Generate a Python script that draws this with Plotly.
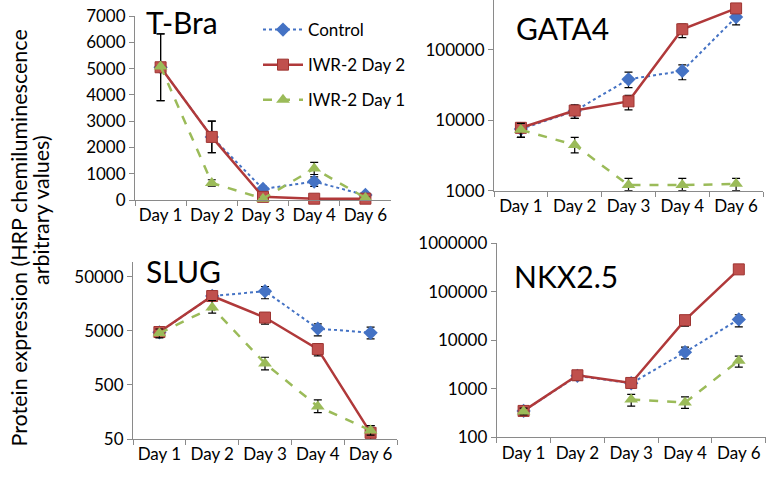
import plotly.graph_objects as go
import math

days = ["Day 1", "Day 2", "Day 3", "Day 4", "Day 6"]

# ---- T-Bra (linear) ----
tbra_ctrl = [5050, 2400, 420, 700, 190]
tbra_ctrl_err = [1270, 600, 100, 180, 70]
tbra_d2 = [5050, 2400, 120, 50, 50]
tbra_d2_err = [1270, 600, 50, 30, 30]
tbra_d1 = [5080, 650, 50, 1200, 80]
tbra_d1_err = [0, 120, 30, 230, 40]
tbra_ticks = [0, 1000, 2000, 3000, 4000, 5000, 6000, 7000]

# ---- GATA4 (log) ----
gata_ctrl = [7500, 13500, 38000, 50000, 290000]
gata_ctrl_hi = [9000, 16000, 48000, 61000, 330000]
gata_ctrl_lo = [5700, 10600, 29000, 37500, 225000]
gata_d2 = [7800, 13700, 18500, 195000, 385000]
gata_d2_hi = [9000, 16500, 22500, 230000, 420000]
gata_d2_lo = [5700, 10600, 14000, 148000, 350000]
gata_d1 = [7300, 4450, 1200, 1200, 1250]
gata_d1_hi = [9000, 5700, 1500, 1500, 1500]
gata_d1_lo = [5700, 3450, 1000, 1000, 1000]
gata_ticks = [1000, 10000, 100000]
gata_ticktext = ["1000", "10000", "100000"]

# ---- SLUG (log) ----
slug_ctrl = [4700, 22000, 27000, 5500, 4600]
slug_ctrl_hi = [5600, 25000, 33000, 6750, 5850]
slug_ctrl_lo = [3900, 19000, 19600, 4040, 3560]
slug_d2 = [4750, 22000, 8800, 2300, 65]
slug_d2_hi = [5600, 25000, 10600, 2870, 88]
slug_d2_lo = [3900, 19000, 6630, 1720, 48]
slug_d1 = [4500, 13500, 1250, 200, 72]
slug_d1_hi = [5400, 18200, 1625, 264, 88]
slug_d1_lo = [3700, 10600, 950, 154, 59]
slug_ticks = [50, 500, 5000, 50000]
slug_ticktext = ["50", "500", "5000", "50000"]

# ---- NKX2.5 (log) ----
nkx_ctrl = [350, 1850, 1300, 5700, 27000]
nkx_ctrl_hi = [400, 2200, 1550, 7200, 33600]
nkx_ctrl_lo = [290, 1500, 1050, 4150, 19000]
nkx_d2 = [350, 1900, 1320, 26000, 290000]
nkx_d2_hi = [400, 2250, 1600, 32000, 330000]
nkx_d2_lo = [290, 1500, 1050, 19500, 250000]
nkx_d1 = [340, None, 600, 520, 3800]
nkx_d1_hi = [400, None, 770, 680, 4700]
nkx_d1_lo = [290, None, 438, 393, 2800]
nkx_ticks = [100, 1000, 10000, 100000, 1000000]
nkx_ticktext = ["100", "1000", "10000", "100000", "1000000"]

FONT = "Lato"
BLUE = "#4472C4"
RED_LINE = "#B0393A"
RED_FILL = "#C0504D"
GREEN = "#9BBB59"
AXIS = "#8A8A8A"

W, H = 767, 477

def pm(vals, hi, lo):
    plus = [None if v is None else h - v for v, h in zip(vals, hi)]
    minus = [None if v is None else v - l for v, l in zip(vals, lo)]
    return plus, minus

fig = go.Figure()

series_style = {
    "ctrl": dict(name="Control", line=dict(color=BLUE, width=2, dash="dot"),
                 marker=dict(symbol="diamond", size=11, color=BLUE)),
    "d2": dict(name="IWR-2 Day 2", line=dict(color=RED_LINE, width=2.5),
               marker=dict(symbol="square", size=11, color=RED_FILL,
                           line=dict(color="#9E3431", width=1))),
    "d1": dict(name="IWR-2 Day 1", line=dict(color=GREEN, width=2.5, dash="dash"),
               marker=dict(symbol="triangle-up", size=12, color=GREEN)),
}

panels = [
    ("x", "y", [("ctrl", tbra_ctrl, tbra_ctrl_err, tbra_ctrl_err),
                ("d2", tbra_d2, tbra_d2_err, tbra_d2_err),
                ("d1", tbra_d1, tbra_d1_err, tbra_d1_err)]),
    ("x2", "y2", [("ctrl",) + (gata_ctrl,) + pm(gata_ctrl, gata_ctrl_hi, gata_ctrl_lo),
                  ("d2",) + (gata_d2,) + pm(gata_d2, gata_d2_hi, gata_d2_lo),
                  ("d1",) + (gata_d1,) + pm(gata_d1, gata_d1_hi, gata_d1_lo)]),
    ("x3", "y3", [("ctrl",) + (slug_ctrl,) + pm(slug_ctrl, slug_ctrl_hi, slug_ctrl_lo),
                  ("d2",) + (slug_d2,) + pm(slug_d2, slug_d2_hi, slug_d2_lo),
                  ("d1",) + (slug_d1,) + pm(slug_d1, slug_d1_hi, slug_d1_lo)]),
    ("x4", "y4", [("ctrl",) + (nkx_ctrl,) + pm(nkx_ctrl, nkx_ctrl_hi, nkx_ctrl_lo),
                  ("d2",) + (nkx_d2,) + pm(nkx_d2, nkx_d2_hi, nkx_d2_lo),
                  ("d1",) + (nkx_d1,) + pm(nkx_d1, nkx_d1_hi, nkx_d1_lo)]),
]

for pi, (xa, ya, series) in enumerate(panels):
    for key, vals, plus, minus in series:
        st = series_style[key]
        fig.add_trace(go.Scatter(
            x=days, y=vals, xaxis=xa, yaxis=ya, mode="lines+markers",
            name=st["name"], line=st["line"], marker=st["marker"],
            legendgroup=key, showlegend=(pi == 0),
            connectgaps=False, cliponaxis=False,
            error_y=dict(type="data", array=plus, arrayminus=minus,
                         color="black", thickness=1.2, width=4, symmetric=False),
        ))

def px_dom_x(a, b):
    return [max(0, a / W), min(1, b / W)]

def px_dom_y(top, bottom):
    return [max(0, 1 - bottom / H), min(1, 1 - top / H)]

def px_x(a):
    return a / W

def px_y(a):
    return 1 - a / H

xcommon = dict(type="category", categoryorder="array", categoryarray=days,
               range=[-0.5, 4.5], showline=True, linecolor=AXIS, linewidth=1,
               ticks="outside", tickson="boundaries", ticklen=5, tickcolor=AXIS,
               showgrid=False, zeroline=False, automargin=False, tickangle=0,
               ticklabeloverflow="allow",
               tickfont=dict(family=FONT, size=17, color="black"))
ycommon = dict(showline=True, linecolor=AXIS, linewidth=1, ticks="outside",
               ticklen=5, tickcolor=AXIS, showgrid=False, zeroline=False,
               automargin=False, ticklabeloverflow="allow",
               tickfont=dict(family=FONT, size=17, color="black"))

# GATA4: 1000 at y 190.7 px, 70.5 px per decade, axis reaches top edge
g_top = 3 + 190.7 / 70.5

fig.update_layout(
    xaxis=dict(xcommon, domain=px_dom_x(135, 391), anchor="y"),
    yaxis=dict(ycommon, domain=px_dom_y(16, 200), anchor="x", range=[0, 7000],
               tickvals=tbra_ticks),
    xaxis2=dict(xcommon, domain=px_dom_x(494, 763), anchor="y2"),
    yaxis2=dict(ycommon, domain=px_dom_y(0, 190.7), anchor="x2", type="log",
                range=[3, g_top], tickvals=gata_ticks, ticktext=gata_ticktext),
    xaxis3=dict(xcommon, domain=px_dom_x(133, 397), anchor="y3"),
    yaxis3=dict(ycommon, domain=px_dom_y(261.7, 439), anchor="x3", type="log",
                range=[math.log10(50), 4.977], tickvals=slug_ticks,
                ticktext=slug_ticktext),
    xaxis4=dict(xcommon, domain=px_dom_x(496.7, 765.7), anchor="y4"),
    yaxis4=dict(ycommon, domain=px_dom_y(243.3, 437.3), anchor="x4", type="log",
                range=[2, 6], tickvals=nkx_ticks, ticktext=nkx_ticktext),
)

titles = [("T-Bra", 144, 22.5), ("GATA4", 514, 28), ("SLUG", 144, 271), ("NKX2.5", 512, 276)]
for txt, x, y in titles:
    fig.add_annotation(text=txt, xref="paper", yref="paper", x=px_x(x), y=px_y(y),
                       xanchor="left", yanchor="middle", showarrow=False,
                       font=dict(family=FONT, size=30, color="black"))

fig.add_annotation(text="Protein expression (HRP chemiluminescence", xref="paper",
                   yref="paper", x=px_x(18.5), y=px_y(238), textangle=-90,
                   showarrow=False, xanchor="center", yanchor="middle",
                   font=dict(family=FONT, size=21.5, color="black"))
fig.add_annotation(text="arbitrary values)", xref="paper",
                   yref="paper", x=px_x(41), y=px_y(210), textangle=-90,
                   showarrow=False, xanchor="center", yanchor="middle",
                   font=dict(family=FONT, size=21.5, color="black"))

fig.update_layout(
    width=W, height=H, margin=dict(l=0, r=0, t=0, b=0),
    paper_bgcolor="white", plot_bgcolor="white",
    font=dict(family=FONT, size=17, color="black"),
    showlegend=True,
    legend=dict(x=px_x(258), y=px_y(12), xanchor="left", yanchor="top",
                bgcolor="rgba(0,0,0,0)", font=dict(family=FONT, size=17),
                tracegroupgap=10, itemwidth=40),
)

fig.write_html("out.html", config={"displayModeBar": False},
               post_script="document.body.style.margin='0';")
